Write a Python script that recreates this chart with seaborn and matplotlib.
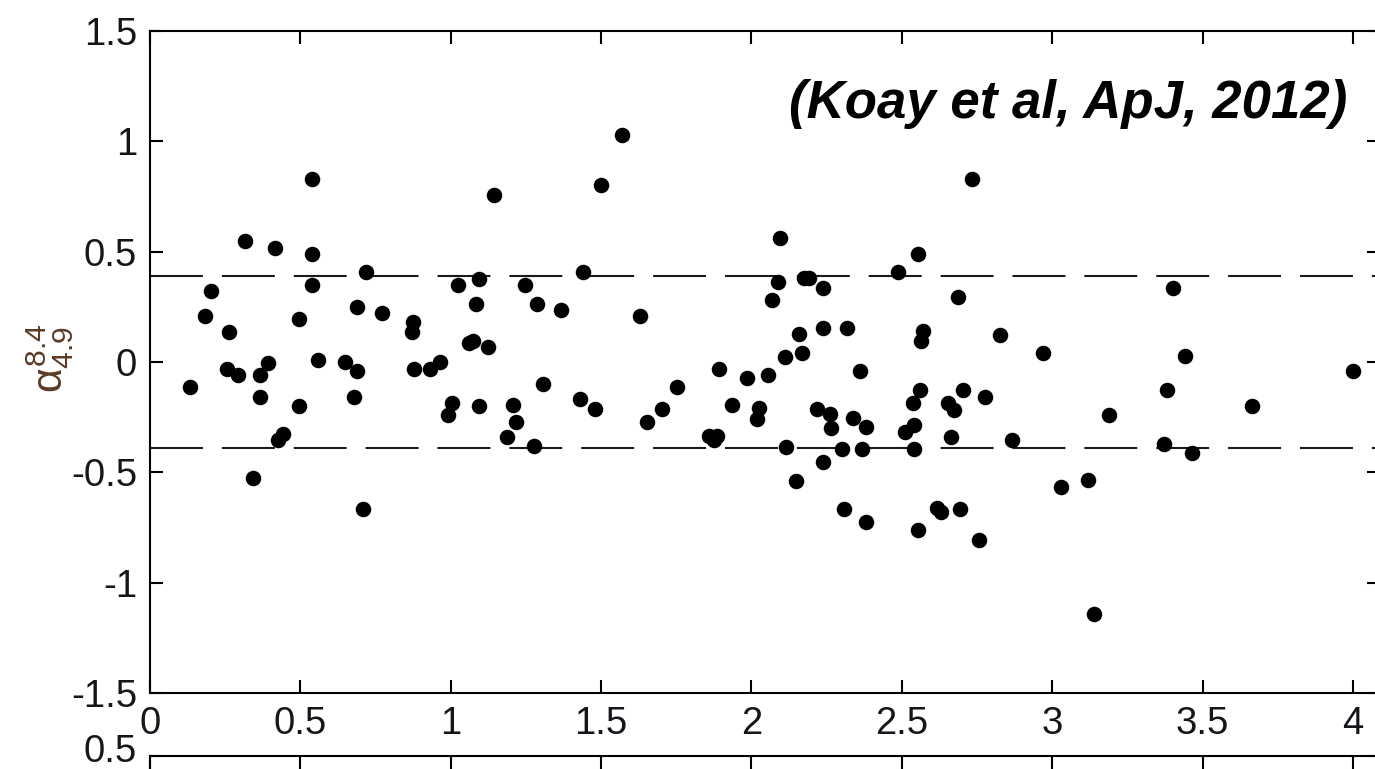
import matplotlib
matplotlib.use("Agg")
import matplotlib.pyplot as plt
import matplotlib.transforms as mtransforms
import numpy as np
import pandas as pd
import seaborn as sns

# ---- data ----
x_vals = [0.133, 0.183, 0.203, 0.255, 0.264, 0.294, 0.315, 0.344, 0.366, 0.366,
          0.394, 0.416, 0.427, 0.443, 0.497, 0.497, 0.538, 0.538, 0.538, 0.558,
          0.648, 0.687, 0.680, 0.687, 0.709, 0.719, 0.770, 0.876, 0.872, 0.879,
          0.932, 0.964, 1.003, 0.992,
          1.024, 1.094, 1.084, 1.062, 1.075, 1.125, 1.094, 1.145, 1.206, 1.217,
          1.186, 1.247, 1.277, 1.288, 1.307, 1.368, 1.430, 1.439, 1.480, 1.499,
          1.571, 1.630, 1.651, 1.701, 1.753, 1.860, 1.885, 1.875, 1.893, 1.934,
          1.984,
          2.025, 2.017, 2.056, 2.067, 2.088, 2.096, 2.110, 2.114, 2.147, 2.157,
          2.167, 2.175, 2.190, 2.217, 2.239, 2.239, 2.239, 2.261, 2.266, 2.300,
          2.309, 2.319, 2.339, 2.361, 2.369, 2.380, 2.380, 2.488, 2.510, 2.541,
          2.541, 2.538, 2.554, 2.553, 2.560, 2.563, 2.571, 2.618, 2.630, 2.654,
          2.663, 2.674, 2.686, 2.693, 2.704, 2.733, 2.758, 2.776, 2.825, 2.865,
          2.968,
          3.028, 3.120, 3.140, 3.190, 3.373, 3.383, 3.403, 3.443, 3.464, 3.666,
          3.999]
y_vals = [-0.115, 0.209, 0.321, -0.030, 0.137, -0.060, 0.547, -0.526, -0.060, -0.159,
          -0.003, 0.518, -0.355, -0.325, 0.197, -0.201, 0.829, 0.489, 0.350, 0.010,
          -0.002, -0.042, -0.159, 0.250, -0.665, 0.408, 0.220, 0.181, 0.135, -0.030,
          -0.030, -0.002, -0.185, -0.242,
          0.350, 0.378, 0.265, 0.085, 0.095, 0.068, -0.200, 0.759, -0.197, -0.272,
          -0.340, 0.350, -0.381, 0.265, -0.098, 0.237, -0.169, 0.408, -0.212, 0.804,
          1.027, 0.210, -0.272, -0.212, -0.113, -0.335, -0.335, -0.355, -0.030, -0.197,
          -0.073,
          -0.209, -0.257, -0.059, 0.280, 0.362, 0.562, 0.024, -0.386, -0.540, 0.126,
          0.040, 0.381, 0.381, -0.212, 0.336, 0.152, -0.454, -0.234, -0.299, -0.396,
          -0.665, 0.152, -0.254, -0.042, -0.396, -0.295, -0.723, 0.406, -0.317, -0.287,
          -0.396, -0.184, 0.491, -0.763, -0.129, 0.096, 0.140, -0.660, -0.680, -0.184,
          -0.340, -0.219, 0.295, -0.665, -0.129, 0.829, -0.806, -0.159, 0.124, -0.355,
          0.040,
          -0.567, -0.537, -1.143, -0.242, -0.370, -0.129, 0.336, 0.025, -0.413, -0.200,
          -0.043]
band_levels = [0.39, -0.39]
x_ticks = [0, 0.5, 1, 1.5, 2, 2.5, 3, 3.5, 4]
x_tick_labels = ["0", "0.5", "1", "1.5", "2", "2.5", "3", "3.5", "4"]
y_ticks = [-1.5, -1, -0.5, 0, 0.5, 1, 1.5]
y_tick_labels = ["-1.5", "-1", "-0.5", "0", "0.5", "1", "1.5"]
y2_ticks = [0.5]
y2_tick_labels = ["0.5"]
y_label = r"$\alpha^{8.4}_{4.9}$"
citation = "(Koay et al, ApJ, 2012)"

df = pd.DataFrame({"x": x_vals, "y": y_vals})

sns.set_style("ticks")
plt.rcParams["font.family"] = ["Liberation Sans", "DejaVu Sans"]
plt.rcParams["mathtext.fontset"] = "custom"
plt.rcParams["mathtext.rm"] = "Liberation Sans"
plt.rcParams["mathtext.it"] = "Liberation Sans"

W, H = 1375, 769
fig = plt.figure(figsize=(W / 100, H / 100), dpi=100)
fig.patch.set_facecolor("white")


def px_rect(l, t, r, b):
    return [l / W, 1 - b / H, (r - l) / W, (b - t) / H]


ax = fig.add_axes(px_rect(150, 31, 1380, 693))
ax2 = fig.add_axes(px_rect(150, 756, 1380, 756 + 662))

sns.scatterplot(data=df, x="x", y="y", color="black", s=125, linewidth=0,
                marker="o", ax=ax, legend=False, zorder=3)
for lv in band_levels:
    ax.axhline(lv, color="#1a1a1a", lw=1.5, linestyle=(0, (25.4, 9.1)),
               dash_capstyle="butt", zorder=2)

tick_color = "#15151c"
for a, yt, ytl, ylim in [(ax, y_ticks, y_tick_labels, (-1.5, 1.5)),
                         (ax2, y2_ticks, y2_tick_labels, (-1.5, 0.5))]:
    a.set_xlim(0, 4.09)
    a.set_ylim(*ylim)
    a.set_xticks(x_ticks, x_tick_labels)
    a.set_yticks(yt, ytl)
    a.tick_params(direction="in", length=9.4, width=1.5, top=True, right=True,
                  labelsize=27.5, pad=9.4, color="black", labelcolor=tick_color)
    a.set_xlabel("")
    a.set_ylabel("")
    for sp in a.spines.values():
        sp.set_visible(True)
        sp.set_linewidth(1.5)
        sp.set_color("black")
    a.set_facecolor("white")

ax2.tick_params(axis="x", labelbottom=False)
# nudge the partially visible lower-panel label up so it stays inside the canvas
shift = mtransforms.ScaledTranslation(0, 8.5 / 100, fig.dpi_scale_trans)
for lbl in ax2.get_yticklabels():
    lbl.set_transform(lbl.get_transform() + shift)

fig.text(50 / W, 1 - 358 / H, y_label, rotation=90, ha="center", va="center",
         fontsize=31, color="#5c3b26")

fig.text(1347 / W, 1 - 118 / H, citation, ha="right", va="baseline",
         fontsize=38, fontweight="bold", fontstyle="italic", color="black")

fig.savefig("out.png", dpi=100)
